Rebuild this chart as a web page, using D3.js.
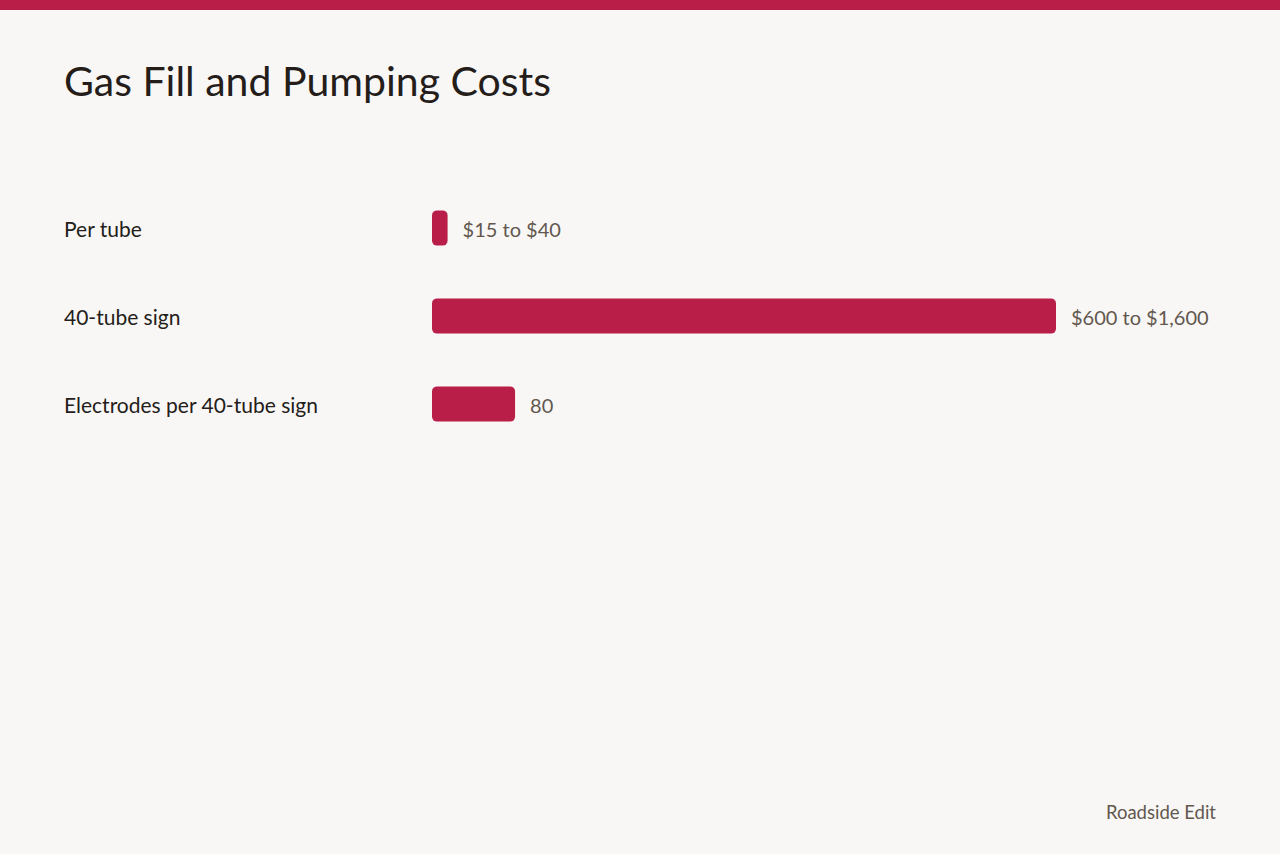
<!DOCTYPE html>
<html>
<head>
<meta charset="utf-8">
<script src="https://cdn.jsdelivr.net/npm/d3@7"></script>
<style>
  html, body { margin: 0; padding: 0; background: #f9f7f5; }
  svg { display: block; }
</style>
</head>
<body>
<svg id="chart"></svg>
<script>
// row labels and what each bar shows
const categories = ['Per tube', '40-tube sign', 'Electrodes per 40-tube sign']
const barValues = [40, 1600, 213]   // bar lengths
const valueLabels = ['$15 to $40', '$600 to $1,600', '80']

const width = 1280
const height = 854
const margin = { top: 184, left: 432, right: 224 }
const accent = '#b81e48'
const font = "'Source Sans Pro', 'Lato', 'Noto Sans', sans-serif"

const svg = d3.select('#chart')
  .attr('width', width)
  .attr('height', height)
  .style('font-family', font)

svg.append('rect')
  .attr('width', width).attr('height', height)
  .attr('fill', '#f9f7f5')

// top accent band
svg.append('rect')
  .attr('width', width).attr('height', 10)
  .attr('fill', accent)

svg.append('text')
  .attr('x', 64).attr('y', 96)
  .attr('font-size', 41)
  .attr('fill', '#241d1a')
  .text('Gas Fill and Pumping Costs')

const x = d3.scaleLinear()
  .domain([0, d3.max(barValues)])
  .range([margin.left, width - margin.right])

const y = d3.scaleBand()
  .domain(categories)
  .range([margin.top, margin.top + 88 * categories.length])
  .paddingInner(0.6)
  .paddingOuter(0.3)

const rows = svg.append('g')
  .selectAll('g')
  .data(categories)
  .join('g')

rows.append('text')
  .attr('x', 64)
  .attr('y', d => y(d) + y.bandwidth() / 2 + 2)
  .attr('dy', '0.35em')
  .attr('font-size', 21)
  .attr('fill', '#241d1a')
  .text(d => d)

rows.append('rect')
  .attr('x', x(0))
  .attr('y', d => y(d))
  .attr('width', (d, i) => x(barValues[i]) - x(0))
  .attr('height', y.bandwidth())
  .attr('rx', 5)
  .attr('fill', accent)

rows.append('text')
  .attr('x', (d, i) => x(barValues[i]) + 15)
  .attr('y', d => y(d) + y.bandwidth() / 2 + 2)
  .attr('dy', '0.35em')
  .attr('font-size', 20)
  .attr('fill', '#62574f')
  .text((d, i) => valueLabels[i])

svg.append('text')
  .attr('x', 1216).attr('y', 819)
  .attr('text-anchor', 'end')
  .attr('font-size', 18.5)
  .attr('fill', '#62574f')
  .text('Roadside Edit')
</script>
</body>
</html>
